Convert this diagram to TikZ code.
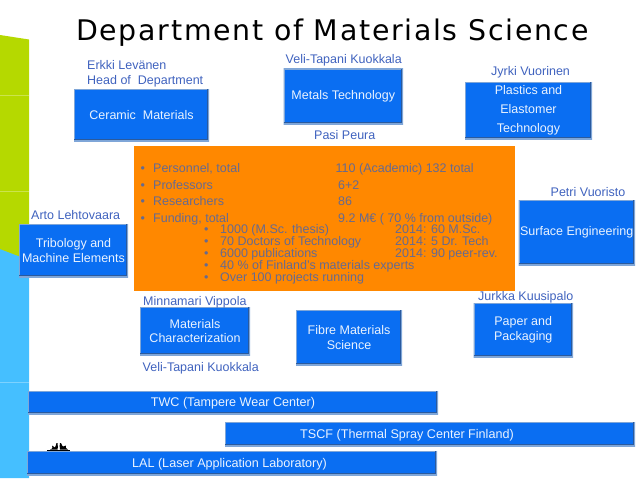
\documentclass[tikz,border=0pt]{standalone}
\usepackage{fontspec}
\setmainfont{Liberation Sans}
\newfontfamily\titlefont[LetterSpace=6]{DejaVu Sans}
\definecolor{boxblue}{HTML}{0A6EF2}
\definecolor{boxedge}{HTML}{7FA6D8}
\definecolor{boxdark}{HTML}{2A5A9E}
\definecolor{labblue}{HTML}{3F62BE}
\definecolor{orangefill}{HTML}{FF8800}
\definecolor{orangetext}{HTML}{666A90}
\definecolor{stripgreen}{HTML}{B5D900}
\definecolor{stripblue}{HTML}{45BFFF}
\definecolor{boxtext}{HTML}{EAF3FF}
\tikzset{
  bluebox/.style={rectangle,fill=boxblue,inner sep=0pt,
    text=boxtext,font=\fontsize{12.5}{14.5}\selectfont,align=center,
    path picture={
      \draw[boxedge,line width=2pt]
        (path picture bounding box.south west) rectangle (path picture bounding box.north east);
      \draw[boxdark,line width=1.4pt]
        ([yshift=1.5pt]path picture bounding box.south west)
        --([xshift=-1.5pt,yshift=1.5pt]path picture bounding box.south east)
        --([xshift=-1.5pt]path picture bounding box.north east);}},
  lab/.style={anchor=base west,inner sep=0pt,text=labblue,font=\fontsize{12.5}{14.5}\selectfont},
  boxlab/.style={anchor=base,inner sep=0pt,text=boxtext,font=\fontsize{12.6}{14.5}\selectfont},
  ortext/.style={anchor=base west,inner sep=0pt,text=orangetext,font=\fontsize{12.5}{14}\selectfont},
  stripline/.style={line width=0.4pt,white,opacity=0.3}
}
\newcommand{\bbox}[6]{\node[bluebox,minimum width=#3pt-#1pt,minimum height=#4pt-#2pt] (#5) at ({(#1+#3)/2},{(#2+#4)/2}) {#6};}
\begin{document}
\begin{tikzpicture}[x=1pt,y=-1pt]
\useasboundingbox (0,0) rectangle (638,479);
% left strip
\fill[stripblue] (0,245) -- (29,250) -- (29,478) -- (0,478) -- cycle;
\fill[stripgreen] (0,35) -- (29,39.5) -- (29,260) -- (0,249) -- cycle;
\draw[stripline] (0,95) -- (29,95);
\draw[stripline] (0,191) -- (29,191);
\draw[stripline] (0,382) -- (29,382);
% title
\node[anchor=base west,inner sep=0pt,font=\fontsize{28.4}{34}\selectfont\titlefont,text=black] (title) at (76,41) {Department of Materials Science};
% orange panel
\node[rectangle,fill=orangefill,inner sep=0pt,minimum width=381pt,minimum height=145pt] (panel) at (324.5,218.5) {};
% boxes
\bbox{74}{89}{209}{141}{ceramic}{Ceramic\ \ Materials}
\bbox{283.5}{68.5}{403}{124}{metals}{Metals Technology}
\node[bluebox,minimum width=127pt,minimum height=57pt,font=\fontsize{12.5}{19}\selectfont] (plastics) at (528.5,110.5) {Plastics and\\Elastomer\\Technology};
\bbox{518.5}{200}{635}{265}{surface}{Surface Engineering}
\bbox{19}{224}{128}{277}{tribology}{Tribology and\\Machine Elements}
\bbox{140}{307}{250}{355}{charact}{Materials\\Characterization}
\bbox{296}{310}{402}{365}{fibre}{Fibre Materials\\Science}
\bbox{473.5}{303}{573}{357}{paper}{Paper and\\Packaging}
\bbox{28}{391}{438}{414}{twc}{}
\bbox{225}{422}{635}{446}{tscf}{}
\bbox{27}{451}{437}{475}{lal}{}
\node[boxlab] (twct) at (233,406.5) {TWC (Tampere Wear Center)};
\node[boxlab] (tscft) at (407,438) {TSCF (Thermal Spray Center Finland)};
\node[boxlab] (lalt) at (229.5,467) {LAL (Laser Application Laboratory)};
% name labels
\node[lab] (n1) at (87,69) {Erkki Levänen};
\node[lab] (n2) at (87,84) {Head of\ \ Department};
\node[lab] (n3) at (285.5,63) {Veli-Tapani Kuokkala};
\node[lab] (n4) at (314,139) {Pasi Peura};
\node[lab] (n5) at (491,75) {Jyrki Vuorinen};
\node[lab] (n6) at (550.5,196) {Petri Vuoristo};
\node[lab] (n7) at (31,219) {Arto Lehtovaara};
\node[lab] (n8) at (143,305) {Minnamari Vippola};
\node[lab] (n9) at (142.5,371) {Veli-Tapani Kuokkala};
\node[lab] (n10) at (478,300) {Jurkka Kuusipalo};
% panel text
\foreach \y/\t [count=\i] in {172/{Personnel, total},189.5/Professors,205/Researchers,222/{Funding, total}}{
  \node[ortext] (a\i) at (153,\y) {\t};
  \node[ortext] (b\i) at (140.5,\y) {•};
}
\node[ortext] (c1) at (335.5,172) {110 (Academic) 132 total};
\node[ortext] (c2) at (338,189.5) {6+2};
\node[ortext] (c3) at (338,205) {86};
\node[ortext] (c4) at (338,222) {9.2 M€ ( 70 \% from outside)};
\foreach \y/\t [count=\i] in {233/1000 (M.Sc. thesis),245/70 Doctors of Technology,257/6000 publications,269/40 \% of Finland’s materials experts,281/Over 100 projects running}{
  \node[ortext] (d\i) at (220,\y) {\t};
  \node[ortext] (e\i) at (204,\y) {•};
}
\node[ortext] (f1) at (395,233) {2014: 60 M.Sc.};
\node[ortext] (f2) at (395,245) {2014: 5 Dr. Tech};
\node[ortext] (f3) at (395,257) {2014: 90 peer-rev.};
% small black birds
\fill[black] (47,449.6) rectangle (70,450.3);
\fill[black] (50,449.6) .. controls (53,449) and (53,446) .. (52,445.5) -- (55,447.5) .. controls (56,446) and (56,444) .. (56.5,443) -- (57.5,443) .. controls (58,446) and (58,448) .. (57.5,449.6) -- cycle;
\fill[black] (60,449.6) .. controls (59.5,447) and (59.5,445) .. (60,443) -- (61,443) .. controls (62,445) and (62,446) .. (63,446.5) -- (66,445.5) .. controls (65,447) and (66,449) .. (68,449.6) -- cycle;
\end{tikzpicture}
\end{document}
